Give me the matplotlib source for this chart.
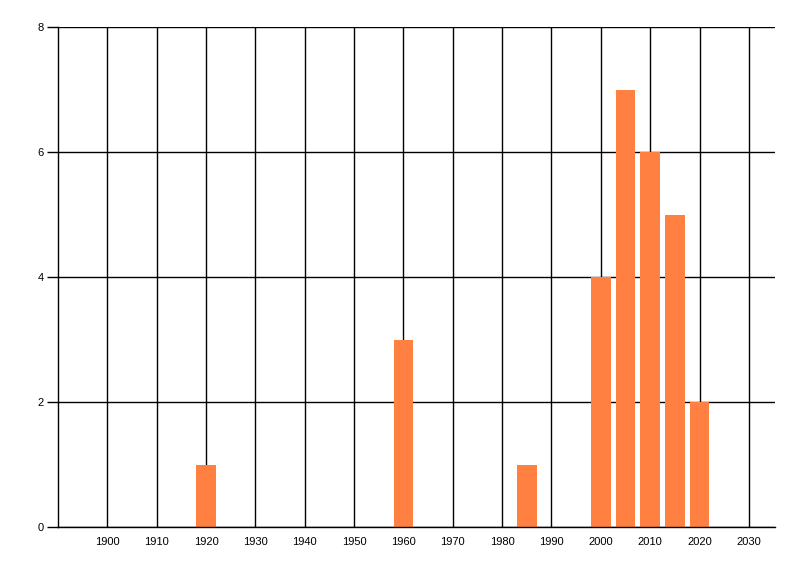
import matplotlib
matplotlib.use("Agg")
import matplotlib.pyplot as plt

# dados
anos = [1920, 1960, 1985, 2000, 2005, 2010, 2015, 2020]
contagens = [1, 3, 1, 4, 7, 6, 5, 2]
x_ticks = list(range(1900, 2031, 10))
y_ticks = [0, 2, 4, 6, 8]

plt.rcParams['font.family'] = ['Liberation Sans', 'DejaVu Sans']

fig = plt.figure(figsize=(8, 5.76), dpi=100)
ax = fig.add_axes([58 / 800, 1 - 527 / 576, (775 - 58) / 800, 500 / 576])

ax.bar(anos, contagens, width=4, color='#FF8040', zorder=3)

ax.set_xlim(1890, 2035.3)
ax.set_ylim(0, 8)
ax.set_xticks(x_ticks)
ax.set_yticks(y_ticks)
ax.grid(True, color='black', linewidth=1, zorder=1)
ax.set_axisbelow(True)

for s in ['top', 'right']:
    ax.spines[s].set_visible(False)
for s in ['left', 'bottom']:
    ax.spines[s].set_linewidth(1)
    ax.spines[s].set_zorder(4)

ax.tick_params(axis='x', length=0, pad=7, labelsize=8)
ax.tick_params(axis='y', length=8, width=1, pad=2, labelsize=8)

fig.savefig('out.png', dpi=100)
